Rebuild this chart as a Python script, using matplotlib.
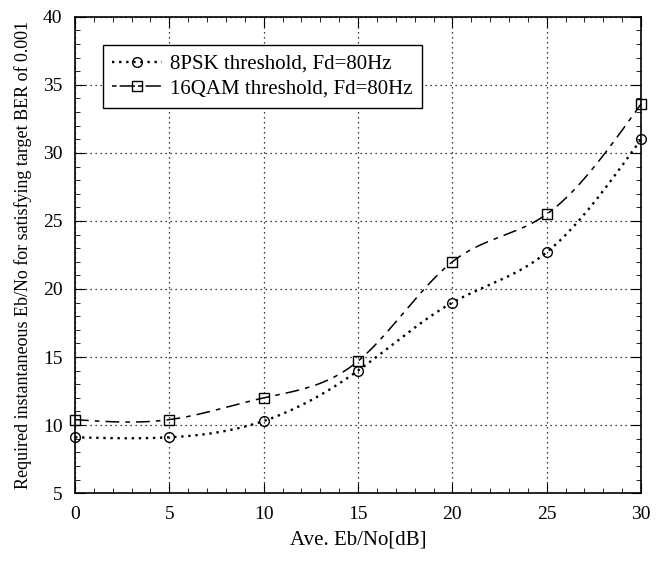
import numpy as np
import matplotlib
matplotlib.use("Agg")
import matplotlib.pyplot as plt
from matplotlib.ticker import MultipleLocator
from matplotlib.lines import Line2D

x_vals = [0, 5, 10, 15, 20, 25, 30]
psk8 = [9.1, 9.1, 10.3, 14.0, 19.0, 22.7, 31.0]
qam16 = [10.4, 10.4, 12.0, 14.7, 22.0, 25.5, 33.6]
labels = ["8PSK threshold, Fd=80Hz", "16QAM threshold, Fd=80Hz"]


def natural_spline(x, y, n=300):
    x = np.asarray(x, float); y = np.asarray(y, float)
    m = len(x); h = np.diff(x)
    A = np.zeros((m, m)); b = np.zeros(m)
    A[0, 0] = A[-1, -1] = 1
    for i in range(1, m - 1):
        A[i, i - 1] = h[i - 1]; A[i, i] = 2 * (h[i - 1] + h[i]); A[i, i + 1] = h[i]
        b[i] = 3 * ((y[i + 1] - y[i]) / h[i] - (y[i] - y[i - 1]) / h[i - 1])
    c = np.linalg.solve(A, b)
    xs = np.linspace(x[0], x[-1], n)
    idx = np.clip(np.searchsorted(x, xs) - 1, 0, m - 2)
    dx = xs - x[idx]
    bb = (y[1:] - y[:-1]) / h - h * (2 * c[:-1] + c[1:]) / 3
    d = (c[1:] - c[:-1]) / (3 * h)
    ys = y[idx] + bb[idx] * dx + c[idx] * dx ** 2 + d[idx] * dx ** 3
    return xs, ys


plt.rcParams['font.family'] = ['Liberation Serif', 'DejaVu Serif']
fig = plt.figure(figsize=(6.66, 5.61), dpi=100)
ax = fig.add_axes([0.1126, 0.121, 0.85, 0.849])

psk_ls = (0, (1, 2))
qam_ls = (0, (9, 4, 3, 4))
xs, ys = natural_spline(x_vals, psk8)
ax.plot(xs, ys, color='black', lw=1.7, linestyle=psk_ls, clip_on=False)
ax.plot(x_vals, psk8, linestyle='none', marker='o', mfc='none', mec='black', ms=7, mew=1, clip_on=False)
xs, ys = natural_spline(x_vals, qam16)
ax.plot(xs, ys, color='black', lw=1.1, linestyle=qam_ls, clip_on=False)
ax.plot(x_vals, qam16, linestyle='none', marker='s', mfc='none', mec='black', ms=7, mew=1, clip_on=False)

h1 = Line2D([], [], color='black', lw=1.7, linestyle=psk_ls, marker='o', mfc='none', mec='black', ms=7)
h2 = Line2D([], [], color='black', lw=1.1, linestyle=(0, (3, 2, 10, 2)), marker='s', mfc='none', mec='black', ms=7)
leg = ax.legend([h1, h2], labels, loc='upper left', bbox_to_anchor=(0.049, 0.941),
                fontsize=15, frameon=True, fancybox=False, edgecolor='black',
                handlelength=2.4, borderpad=0.45, labelspacing=0.25, handletextpad=0.4,
                borderaxespad=0)
leg.get_frame().set_linewidth(1.0)
leg.get_frame().set_alpha(1)

ax.set_xlim(0, 30)
ax.set_ylim(5, 40)
ax.xaxis.set_major_locator(MultipleLocator(5))
ax.xaxis.set_minor_locator(MultipleLocator(1))
ax.yaxis.set_major_locator(MultipleLocator(5))
ax.yaxis.set_minor_locator(MultipleLocator(1))
ax.tick_params(which='both', direction='in', top=True, right=True, labelsize=14)
ax.tick_params(axis='x', pad=9)
ax.tick_params(axis='y', pad=9)
ax.tick_params(which='major', length=7)
ax.tick_params(which='minor', length=3.5)
ax.grid(True, which='major', color='black', linestyle=(0, (1, 3)), lw=0.9)
for s in ax.spines.values():
    s.set_linewidth(1.2)

ax.set_xlabel("Ave. Eb/No[dB]", fontsize=15, labelpad=6)
ax.set_ylabel("Required instantaneous Eb/No for satisfying target BER of 0.001", fontsize=13, labelpad=8)

fig.savefig("out.png", dpi=100)
